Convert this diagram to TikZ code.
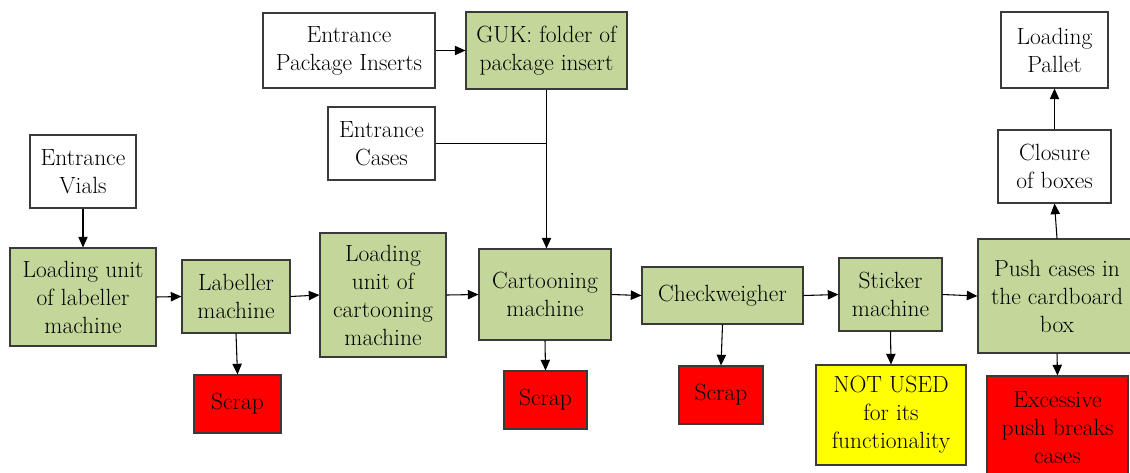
\documentclass[tikz,border=0pt]{standalone}
\usetikzlibrary{arrows.meta}
\definecolor{boxgreen}{HTML}{C4D79B}
\definecolor{boxred}{HTML}{FF0000}
\definecolor{boxyellow}{HTML}{FFFF00}
\definecolor{edgegray}{HTML}{3A3A3A}
\tikzset{
  base/.style={draw=edgegray, line width=0.8pt, align=center, inner sep=0pt,
    font=\fontsize{17.6}{21}\selectfont, text=black},
  whitebox/.style={base, fill=white},
  greenbox/.style={base, fill=boxgreen},
  redbox/.style={base, fill=boxred},
  yellowbox/.style={base, fill=boxyellow},
  conn/.style={line width=0.8pt, draw=black, -{Triangle[length=8pt,width=7pt]}},
  plainconn/.style={line width=0.8pt, draw=black},
}
\newcommand\drawbox[7]{%
  \node[#1, minimum width={(#4-#2)*0.75pt}, minimum height={(#5-#3)*0.75pt}]
    (#6) at ({(#2+#4)/2},{(#3+#5)/2}) {#7};}
\begin{document}
\begin{tikzpicture}[x=0.75pt, y=-0.75pt]
\useasboundingbox (0,0) rectangle (1130,472);
\clip (0,0) rectangle (1130,472);
\drawbox{whitebox}{30}{135}{136}{208}{EV}{Entrance\\Vials}
\drawbox{greenbox}{10}{248}{156}{346}{LUL}{Loading unit\\of labeller\\machine}
\drawbox{greenbox}{182}{260}{290}{333}{LAB}{Labeller\\machine}
\drawbox{greenbox}{320}{233}{446}{357}{LUC}{Loading\\unit of\\cartooning\\machine}
\drawbox{redbox}{194}{375}{281}{433}{S1}{Scrap}
\drawbox{whitebox}{263}{13}{435}{88}{EPI}{Entrance\\Package Inserts}
\drawbox{greenbox}{466}{12}{627}{89}{GUK}{GUK: folder of\\package insert}
\drawbox{whitebox}{328}{107}{435}{180}{EC}{Entrance\\Cases}
\drawbox{greenbox}{479}{249}{611}{340}{CM}{Cartooning\\machine}
\drawbox{redbox}{504}{371}{587}{429}{S2}{Scrap}
\drawbox{greenbox}{642}{267}{803}{324}{CW}{Checkweigher}
\drawbox{redbox}{679}{366}{763}{424}{S3}{Scrap}
\drawbox{greenbox}{839}{258}{942}{331}{ST}{Sticker\\machine}
\drawbox{yellowbox}{816}{365}{966}{465}{NU}{NOT USED\\for its\\functionality}
\drawbox{greenbox}{978}{239}{1136}{353}{PC}{Push cases in\\the cardboard\\box}
\drawbox{redbox}{987}{376}{1128}{480}{EX}{Excessive\\push breaks\\cases}
\drawbox{whitebox}{998}{130}{1111}{203}{CL}{Closure\\of boxes}
\drawbox{whitebox}{1001}{12}{1108}{88}{LP}{Loading\\Pallet}

\coordinate (J) at (GUK.south |- EC.east);
\draw[conn] (EV.south) -- (EV.south |- LUL.north);
\draw[conn] (LUL.east) -- (LAB.west);
\draw[conn] (LAB.east) -- (LUC.west);
\draw[conn] (LUC.east) -- (CM.west);
\draw[conn] (CM.east) -- (CW.west);
\draw[conn] (CW.east) -- (ST.west);
\draw[conn] (ST.east) -- (PC.west);
\draw[conn] (LAB.south) -- (S1.north);
\draw[conn] (CM.south) -- (S2.north);
\draw[conn] (CW.south) -- (S3.north);
\draw[conn] (ST.south) -- (NU.north);
\draw[conn] (PC.north) -- (CL.south);
\draw[conn] (CL.north) -- (LP.south);
\draw[conn] (PC.south) -- (EX.north);
\draw[conn] (EPI.east) -- (GUK.west);
\draw[plainconn] (EC.east) -- (J);
\draw[conn] (GUK.south) -- (GUK.south |- CM.north);
\end{tikzpicture}
\end{document}
